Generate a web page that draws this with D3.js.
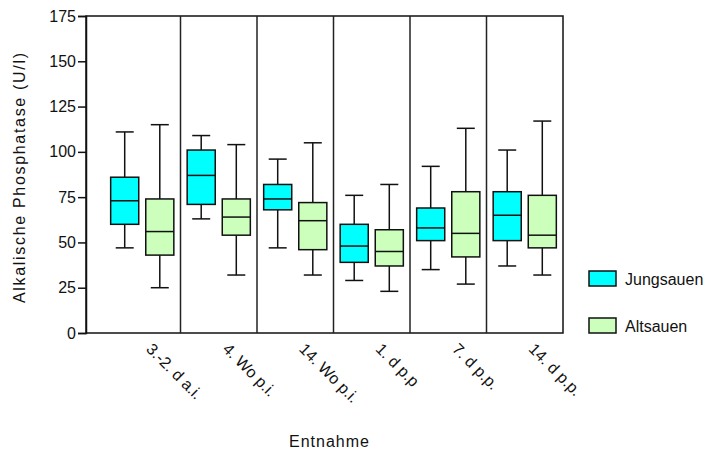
<!DOCTYPE html>
<html><head><meta charset="utf-8">
<script src="https://cdn.jsdelivr.net/npm/d3@7"></script>
<style>body{margin:0;background:#fff;} text{font-family:Arial,"Liberation Sans",sans-serif;}</style>
</head><body><svg id="c" width="712" height="452"></svg>
<script>
const categories = ["3.-2. d a.i.", "4. Wo p.i.", "14. Wo p.i.", "1. d p.p", "7. d p.p.", "14. d p.p."];
const seriesNames = ["Jungsauen", "Altsauen"];
const seriesColors = ["#00ffff", "#ccffbb"];
// [min, q1, median, q3, max]
const jungsauen = [
  [47, 60, 73, 86, 111],
  [63, 71, 87, 101, 109],
  [47, 68, 74, 82, 96],
  [29, 39, 48, 60, 76],
  [35, 51, 58, 69, 92],
  [37, 51, 65, 78, 101]
];
const altsauen = [
  [25, 43, 56, 74, 115],
  [32, 54, 64, 74, 104],
  [32, 46, 62, 72, 105],
  [23, 37, 45, 57, 82],
  [27, 42, 55, 78, 113],
  [32, 47, 54, 76, 117]
];
const yTicks = [0, 25, 50, 75, 100, 125, 150, 175];

(function () {
const svg = d3.select("#c");
const pLeft = 86, pRight = 563, pTop = 16, pBottom = 333;
const y = d3.scaleLinear().domain([0, 175]).range([pBottom, pTop]);
const x = d3.scaleBand().domain(categories).range([104, pRight]).paddingInner(0).paddingOuter(0);
const xs = d3.scaleBand().domain(seriesNames).range([0, x.bandwidth()]).paddingInner(0.2).paddingOuter(0.19);

// frame
svg.append("rect").attr("x", pLeft).attr("y", pTop).attr("width", pRight - pLeft).attr("height", pBottom - pTop)
  .attr("fill", "none").attr("stroke", "#111").attr("stroke-width", 1.5);
// dividers
categories.slice(1).forEach(c => {
  svg.append("line").attr("x1", x(c)).attr("x2", x(c)).attr("y1", pTop).attr("y2", pBottom)
    .attr("stroke", "#222").attr("stroke-width", 1.5);
});

// y axis
const ya = svg.append("g").attr("transform", `translate(${pLeft},0)`)
  .call(d3.axisLeft(y).tickValues(yTicks).tickSize(8).tickPadding(2).tickFormat(d3.format("d")));
ya.select(".domain").attr("stroke", "#111").attr("stroke-width", 1.5);
ya.selectAll(".tick line").attr("stroke", "#111").attr("stroke-width", 1.5);
ya.selectAll(".tick text").attr("font-size", 16).attr("fill", "#111").attr("font-family", "Arial, 'Liberation Sans', sans-serif");

// boxes
const allData = [jungsauen, altsauen];
allData.forEach((series, si) => {
  const name = seriesNames[si];
  series.forEach((d, ci) => {
    const cx0 = x(categories[ci]) + xs(name);
    const w = xs.bandwidth();
    const cx = cx0 + w / 2;
    const g = svg.append("g").attr("stroke", "#111").attr("stroke-width", 1.5);
    g.append("line").attr("x1", cx).attr("x2", cx).attr("y1", y(d[4])).attr("y2", y(d[3]));
    g.append("line").attr("x1", cx).attr("x2", cx).attr("y1", y(d[1])).attr("y2", y(d[0]));
    g.append("line").attr("x1", cx - 9).attr("x2", cx + 9).attr("y1", y(d[4])).attr("y2", y(d[4]));
    g.append("line").attr("x1", cx - 9).attr("x2", cx + 9).attr("y1", y(d[0])).attr("y2", y(d[0]));
    g.append("rect").attr("x", cx0).attr("y", y(d[3])).attr("width", w).attr("height", y(d[1]) - y(d[3]))
      .attr("fill", seriesColors[si]);
    g.append("line").attr("x1", cx0).attr("x2", cx0 + w).attr("y1", y(d[2])).attr("y2", y(d[2]));
  });
});

// x labels
categories.forEach(c => {
  const cx = x(c) + x.bandwidth() / 2 + 3;
  svg.append("text").attr("transform", `translate(${cx},350) rotate(45)`)
    .attr("font-size", 16).attr("fill", "#111").text(c);
});

// axis titles
svg.append("text").attr("transform", "translate(25,178) rotate(-90)").attr("text-anchor", "middle")
  .attr("font-size", 16).attr("fill", "#111").attr("textLength", 250).attr("lengthAdjust", "spacing")
  .text("Alkalische Phosphatase (U/l)");
svg.append("text").attr("x", 329).attr("y", 447).attr("text-anchor", "middle")
  .attr("font-size", 16).attr("fill", "#111").attr("textLength", 80).attr("lengthAdjust", "spacing")
  .text("Entnahme");

// legend
const legY = [271, 318];
seriesNames.forEach((n, i) => {
  svg.append("rect").attr("x", 589).attr("y", legY[i]).attr("width", 27).attr("height", 15)
    .attr("fill", seriesColors[i]).attr("stroke", "#111").attr("stroke-width", 1.5);
  svg.append("text").attr("x", 625).attr("y", legY[i] + 14).attr("font-size", 16).attr("fill", "#111").text(n);
});
})();
</script></body></html>
